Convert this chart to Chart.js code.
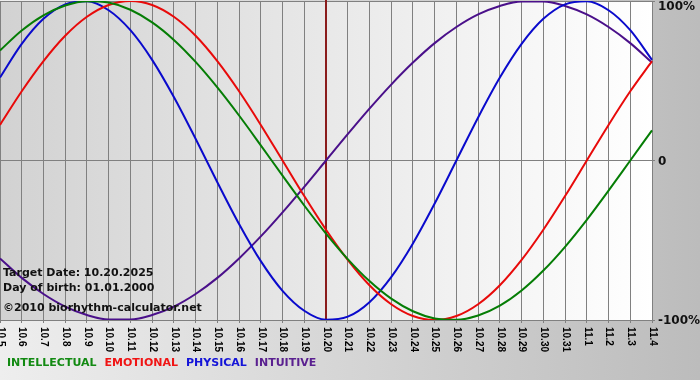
<!DOCTYPE html>
<html>
<head>
<meta charset="utf-8">
<script src="https://cdn.jsdelivr.net/npm/chart.js@4/dist/chart.umd.min.js"></script>
<style>
html,body{margin:0;padding:0;background:#fff;}
canvas{display:block;}
</style>
</head>
<body>
<canvas id="c" width="700" height="380"></canvas>
<script>
const dateLabels = ['10.5','10.6','10.7','10.8','10.9','10.10','10.11','10.12','10.13','10.14','10.15','10.16','10.17','10.18','10.19','10.20','10.21','10.22','10.23','10.24','10.25','10.26','10.27','10.28','10.29','10.30','10.31','11.1','11.2','11.3','11.4'];
const intellectual = [69.0,81.5,91.0,97.2,99.9,99.0,94.5,86.6,75.6,61.8,45.8,28.2,9.5,-9.5,-28.2,-45.8,-61.8,-75.6,-86.6,-94.5,-99.0,-99.9,-97.2,-91.0,-81.5,-69.0,-54.1,-37.2,-18.9,0,18.9];
const emotional = [22.3,43.4,62.3,78.2,90.1,97.5,100,97.5,90.1,78.2,62.3,43.4,22.3,0,-22.3,-43.4,-62.3,-78.2,-90.1,-97.5,-100,-97.5,-90.1,-78.2,-62.3,-43.4,-22.3,0,22.3,43.4,62.3];
const physical = [52.0,73.1,88.8,97.9,99.8,94.2,81.7,63.1,39.8,13.6,-13.6,-39.8,-63.1,-81.7,-94.2,-99.8,-97.9,-88.8,-73.1,-52.0,-27.0,0,27.0,52.0,73.1,88.8,97.9,99.8,94.2,81.7,63.1];
const intuitive = [-61.4,-73.6,-83.7,-91.6,-96.9,-99.7,-99.7,-96.9,-91.6,-83.7,-73.6,-61.4,-47.6,-32.5,-16.5,0,16.5,32.5,47.6,61.4,73.6,83.7,91.6,96.9,99.7,99.7,96.9,91.6,83.7,73.6,61.4];
const yTickValues = [100, 0, -100];
const yTickTexts = ['100%', '0', '-100%'];
const targetLabel = '10.20';
const infoLines = ['Target Date: 10.20.2025', 'Day of birth: 01.01.2000', '\u00A92010 biorhythm-calculator.net'];
const legendNames = ['INTELLECTUAL', 'EMOTIONAL', 'PHYSICAL', 'INTUITIVE'];

const COLORS = ['#057d05', '#e80a0a', '#0a0acc', '#4a108a'];
const LEGEND_COLORS = ['#128a12', '#f01414', '#1414d8', '#5a2090'];

const bgPlugin = {
  id: 'bg',
  beforeDraw(chart) {
    const ctx = chart.ctx, a = chart.chartArea;
    ctx.save();
    let g = ctx.createLinearGradient(0, 0, chart.width, 0);
    g.addColorStop(0, '#eeeeee');
    g.addColorStop(1, '#bcbcbc');
    ctx.fillStyle = g;
    ctx.fillRect(0, 0, chart.width, chart.height);
    g = ctx.createLinearGradient(a.left, 0, a.right, 0);
    g.addColorStop(0, '#d2d2d2');
    g.addColorStop(1, '#ffffff');
    ctx.fillStyle = g;
    ctx.fillRect(a.left, a.top, a.right - a.left, a.bottom - a.top);
    ctx.restore();
  },
  beforeDatasetsDraw(chart) {
    const ctx = chart.ctx, a = chart.chartArea;
    const xs = chart.scales.x;
    const x = Math.round(xs.getPixelForValue(dateLabels.indexOf(targetLabel)));
    ctx.save();
    ctx.strokeStyle = '#8a1c1c';
    ctx.lineWidth = 2;
    ctx.beginPath();
    ctx.moveTo(x, a.top - 1);
    ctx.lineTo(x, a.bottom);
    ctx.stroke();
    ctx.restore();
  },
  afterDraw(chart) {
    const ctx = chart.ctx, a = chart.chartArea;
    const xs = chart.scales.x, ys = chart.scales.y;
    ctx.save();
    ctx.fillStyle = '#000';
    ctx.font = 'bold 10px "Liberation Sans", sans-serif';
    ctx.textAlign = 'left';
    ctx.textBaseline = 'middle';
    dateLabels.forEach((lab, i) => {
      const x = xs.getPixelForTick(i);
      ctx.save();
      ctx.translate(x + 0.5, a.bottom + 7);
      ctx.rotate(Math.PI / 2);
      ctx.fillText(lab, 0, 0);
      ctx.restore();
    });
    ctx.font = 'bold 12px "DejaVu Sans", sans-serif';
    ctx.fillStyle = '#111';
    yTickValues.forEach((v, i) => {
      let y = ys.getPixelForValue(v) + 1;
      y = Math.max(y, 7);
      ctx.fillText(yTickTexts[i], a.right + 6, y);
    });
    ctx.font = 'bold 11px "DejaVu Sans", sans-serif';
    ctx.textBaseline = 'alphabetic';
    ctx.fillStyle = '#111';
    const baseY = [276, 291, 311];
    infoLines.forEach((t, i) => ctx.fillText(t, a.left + 3, baseY[i]));
    let lx = 7;
    legendNames.forEach((n, i) => {
      ctx.fillStyle = LEGEND_COLORS[i];
      ctx.fillText(n, lx, 366);
      lx += ctx.measureText(n).width + 8;
    });
    ctx.restore();
  }
};

const series = [intellectual, emotional, physical, intuitive];
new Chart(document.getElementById('c'), {
  type: 'line',
  data: {
    labels: dateLabels,
    datasets: series.map((d, i) => ({
      label: legendNames[i],
      data: d,
      borderColor: COLORS[i],
      borderWidth: 2,
      pointRadius: 0,
      cubicInterpolationMode: 'monotone',
      fill: false
    }))
  },
  options: {
    responsive: false,
    animation: false,
    devicePixelRatio: 1,
    layout: { padding: { left: 0, right: 0, top: 1, bottom: 0 } },
    plugins: { legend: { display: false }, tooltip: { enabled: false } },
    scales: {
      x: {
        offset: false,
        grid: { color: '#808080', lineWidth: 1, drawTicks: true, tickLength: 3 },
        border: { display: false },
        ticks: { display: false, autoSkip: false },
        afterFit(s) { s.height = 60; }
      },
      y: {
        position: 'right',
        min: -100, max: 100,
        grid: { color: '#808080', lineWidth: 1, drawTicks: true, tickLength: 3 },
        border: { display: true, color: '#808080' },
        ticks: { display: false, stepSize: 100 },
        afterFit(s) { s.width = 48; }
      }
    }
  },
  plugins: [bgPlugin]
});
</script>
</body>
</html>
